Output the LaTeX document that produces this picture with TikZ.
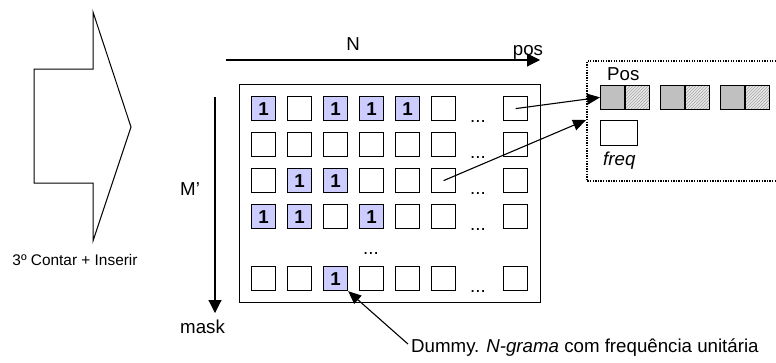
\documentclass[tikz,border=0pt]{standalone}
\usepackage{fontspec}
\setmainfont{Liberation Sans}
\usetikzlibrary{arrows.meta,patterns}
\definecolor{lav}{RGB}{204,204,255}
\definecolor{silver}{RGB}{192,192,192}
\begin{document}
\begin{tikzpicture}[x=1pt,y=-1pt,
  every node/.style={font=\fontsize{18.7}{22}\selectfont, inner sep=0pt},
  thin line/.style={line width=1.1pt},
  cell/.style={draw, line width=1.2pt, minimum size=24pt, anchor=north west},
  one/.style={fill=lav, execute at begin node={\bfseries 1}},
  nil/.style={},
  bigtip/.style={-{Triangle[length=13pt,width=13pt]}},
  smalltip/.style={-{Triangle[length=13pt,width=11pt]}},
  half/.style={draw, line width=1.2pt, minimum width=24.3pt, minimum height=24.5pt, anchor=north west},
  solid half/.style={half, fill=silver},
  hatched half/.style={half, preaction={fill=gray!18}, pattern=north east lines, pattern color=gray!70},
]
\useasboundingbox (0,0) rectangle (776,362);

% block arrow of the counting/insert step
\draw[line width=1pt] (34,69) -- (93,69) -- (93,12) -- (131,127) -- (93,241) -- (93,183) -- (34,183) -- cycle;
\node[anchor=base, font=\fontsize{15.4}{18}\selectfont] (step3) at (75,265) {3º Contar + Inserir};

% axes
\coordinate (nS) at (226,60);
\coordinate (nE) at (540,60);
\draw[thin line, bigtip] (nS) -- (nE);
\node[anchor=base] (nlab) at (353,50) {N};
\node[anchor=base] (poslab) at (528,55) {pos};

\coordinate (mS) at (215,97);
\coordinate (mE) at (215,313);
\draw[thin line, bigtip] (mS) -- (mE);
\node[anchor=base west] (mlab) at (180,195) {M’};
\node[anchor=base west] (masklab) at (180,333) {mask};

% mask matrix
\node[draw, line width=1.4pt, minimum width=301pt, minimum height=218pt, anchor=north west] (grid) at (239,84) {};
\foreach \r/\y/\row in {
  1/96/{one,nil,one,one,one,nil,nil},
  2/132/{nil,nil,nil,nil,nil,nil,nil},
  3/168/{nil,one,one,nil,nil,nil,nil},
  4/204/{one,one,nil,one,nil,nil,nil},
  5/266/{nil,nil,one,nil,nil,nil,nil}} {
  \foreach \s [count=\c] in \row {
    \pgfmathsetmacro{\xx}{ifthenelse(\c<7,215+36*\c,503)}
    \node[cell, \s] (c\r\c) at (\xx,\y) {};
  }
  \node[anchor=base] (dots\r) at (478,\y+26) {...};
}
\node[anchor=base] (vdots) at (371,254) {...};

% position record
\draw[line width=1.3pt, dash pattern=on 1.3pt off 1.3pt] (776,61) -- (587,61) -- (587,181) -- (776,181);
\node[anchor=base west] (poshead) at (607,80) {Pos};
\node[solid half] (p1a) at (600,84.5) {};
\node[hatched half] (p1b) at (624.3,84.5) {};
\node[solid half] (p2a) at (660,84.5) {};
\node[hatched half] (p2b) at (684.3,84.5) {};
\node[solid half] (p3a) at (720,84.5) {};
\node[hatched half] (p3b) at (744.3,84.5) {};
\node[draw, line width=1.2pt, minimum width=36.7pt, minimum height=25pt, anchor=north west] (fq) at (600,120) {};
\node[anchor=base west, font=\itshape\fontsize{18.7}{22}\selectfont] (fqlab) at (603,165) {freq};

\coordinate (recin) at (586,120);
\draw[thin line, smalltip] (c17.center) -- (p1a.west);
\draw[thin line, smalltip] (c36.center) -- (recin);

% dummy entry note
\node[anchor=base west] (dummy) at (411,352) {Dummy. \textit{N-grama} com frequência unitária};
\draw[thin line, smalltip] ([shift={(-3,-3)}]dummy.west) -- (c53.south east);
\end{tikzpicture}
\end{document}
